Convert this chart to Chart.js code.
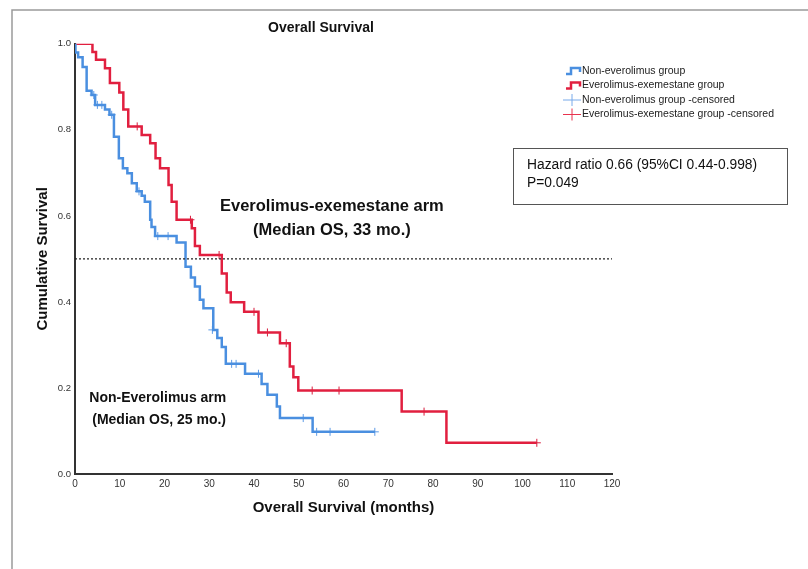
<!DOCTYPE html>
<html>
<head>
<meta charset="utf-8">
<script src="https://cdn.jsdelivr.net/npm/chart.js@4"></script>
<style>
  html, body { margin: 0; padding: 0; background: #fff; }
  canvas { display: block; }
</style>
</head>
<body>
<canvas id="osChart" width="808" height="569"></canvas>
<script>
// Kaplan-Meier steps (months, cumulative survival)
const redTimes = [0, 3.9, 4.7, 6.7, 7.8, 9.9, 10.8, 11.9, 14.9, 16.8, 18.0, 19.0, 20.9, 21.6, 22.7, 26.1, 26.8, 27.9, 32.8, 33.9, 34.8, 37.8, 41.0, 45.8, 48.0, 48.8, 49.9, 73.0, 83.0, 103.2];
const redSurv  = [1.0, 0.981, 0.963, 0.943, 0.909, 0.887, 0.847, 0.808, 0.788, 0.769, 0.734, 0.711, 0.672, 0.633, 0.591, 0.571, 0.530, 0.509, 0.466, 0.422, 0.399, 0.377, 0.329, 0.304, 0.250, 0.225, 0.194, 0.145, 0.0725, 0.0725];

const blueTimes = [0, 0.1, 0.7, 1.7, 2.6, 3.7, 4.5, 6.7, 7.7, 8.7, 9.8, 10.7, 11.7, 12.7, 13.8, 14.9, 15.6, 16.8, 17.1, 17.9, 22.7, 24.7, 25.9, 26.8, 27.9, 28.7, 30.9, 31.8, 32.8, 33.7, 38.0, 41.7, 43.0, 45.1, 45.8, 53.1, 67.0];
const blueSurv  = [1.0, 0.980, 0.969, 0.946, 0.891, 0.881, 0.858, 0.847, 0.835, 0.784, 0.734, 0.711, 0.699, 0.676, 0.657, 0.647, 0.633, 0.591, 0.574, 0.553, 0.538, 0.482, 0.457, 0.436, 0.405, 0.385, 0.335, 0.316, 0.295, 0.256, 0.233, 0.209, 0.184, 0.157, 0.130, 0.098, 0.098];

// censored observations
const redCensTimes = [13.9, 25.8, 32.2, 40.0, 43.0, 47.2, 53.0, 59.0, 78.0, 103.2];
const redCensSurv  = [0.808, 0.591, 0.509, 0.377, 0.329, 0.304, 0.194, 0.194, 0.145, 0.0725];
const blueCensTimes = [4.2, 5.0, 6.0, 8.2, 14.3, 18.5, 20.8, 30.7, 35.0, 36.0, 41.0, 51.0, 54.0, 57.0, 67.0];
const blueCensSurv  = [0.881, 0.858, 0.858, 0.835, 0.657, 0.553, 0.553, 0.335, 0.256, 0.256, 0.233, 0.130, 0.098, 0.098, 0.098];

const xTicks = [0, 10, 20, 30, 40, 50, 60, 70, 80, 90, 100, 110, 120];
const yTicks = [0.0, 0.2, 0.4, 0.6, 0.8, 1.0];

const legendLabels = ['Non-everolimus group', 'Everolimus-exemestane group', 'Non-everolimus group -censored', 'Everolimus-exemestane group -censored'];
const armNotes = [
    { x: 57.4, y: 0.622, size: 16.5, text: 'Everolimus-exemestane arm' },
    { x: 57.4, y: 0.567, size: 16.5, text: '(Median OS, 33 mo.)' },
    { x: 18.5, y: 0.176, size: 14, text: 'Non-Everolimus arm' },
    { x: 18.8, y: 0.126, size: 14, text: '(Median OS, 25 mo.)' }
];
const hrLines = ['Hazard ratio 0.66 (95%CI 0.44-0.998)', 'P=0.049'];

const RED = '#e11f3f';
const BLUE = '#4a8fe0';
const FONT = '"Liberation Sans", Arial, sans-serif';

const toPoints = (xs, ys) => xs.map((x, i) => ({ x: x, y: ys[i] }));

// page frame, arm labels, legend and the HR box
const extrasPlugin = {
    id: 'extras',
    beforeDraw(chart) {
        const ctx = chart.ctx;
        ctx.save();
        ctx.strokeStyle = '#9a9a9a';
        ctx.lineWidth = 1.5;
        ctx.beginPath();
        ctx.moveTo(12, 569);
        ctx.lineTo(12, 10);
        ctx.lineTo(808, 10);
        ctx.stroke();
        ctx.restore();
    },
    afterDraw(chart) {
        const ctx = chart.ctx;
        const xs = chart.scales.x, ys = chart.scales.y;
        ctx.save();

        ctx.fillStyle = '#111';
        ctx.textAlign = 'center';
        ctx.textBaseline = 'middle';
        armNotes.forEach(n => {
            ctx.font = 'bold ' + n.size + 'px ' + FONT;
            ctx.fillText(n.text, xs.getPixelForValue(n.x), ys.getPixelForValue(n.y));
        });

        // legend
        ctx.font = '10.5px ' + FONT;
        ctx.textAlign = 'left';
        const lx = 566, ly = 71, gap = 14.5;
        legendLabels.forEach((label, i) => {
            const y = ly + i * gap;
            ctx.strokeStyle = (i % 2 === 0) ? BLUE : RED;
            ctx.beginPath();
            if (i < 2) {
                ctx.lineWidth = 2.5;
                ctx.moveTo(lx, y + 3);
                ctx.lineTo(lx + 5, y + 3);
                ctx.lineTo(lx + 5, y - 3);
                ctx.lineTo(lx + 14, y - 3);
                ctx.lineTo(lx + 14, y + 1);
            } else {
                ctx.lineWidth = 1;
                ctx.strokeStyle = i === 2 ? '#78aaea' : '#e8334e';
                ctx.moveTo(lx - 3, y);
                ctx.lineTo(lx + 15, y);
                ctx.moveTo(lx + 6, y - 6);
                ctx.lineTo(lx + 6, y + 6);
            }
            ctx.stroke();
            ctx.fillStyle = '#222';
            ctx.fillText(label, lx + 16, y);
        });

        // hazard ratio box
        ctx.strokeStyle = '#555';
        ctx.lineWidth = 1;
        ctx.strokeRect(513.5, 148.5, 274, 56);
        ctx.fillStyle = '#111';
        ctx.font = '13.8px ' + FONT;
        ctx.fillText(hrLines[0], 527, 165);
        ctx.fillText(hrLines[1], 527, 183);
        ctx.restore();
    }
};

new Chart(document.getElementById('osChart'), {
    type: 'line',
    data: {
        datasets: [
            { label: 'median', data: [{ x: 0, y: 0.5 }, { x: 120, y: 0.5 }], borderColor: '#222', borderWidth: 1.2, borderDash: [2, 2], pointRadius: 0 },
            { label: legendLabels[0], data: toPoints(blueTimes, blueSurv), borderColor: BLUE, borderWidth: 2.5, stepped: true, pointRadius: 0 },
            { label: legendLabels[1], data: toPoints(redTimes, redSurv), borderColor: RED, borderWidth: 2.5, stepped: true, pointRadius: 0 },
            { type: 'scatter', label: legendLabels[2], data: toPoints(blueCensTimes, blueCensSurv), pointStyle: 'cross', pointRadius: 4, borderColor: '#5c9ae6', borderWidth: 1, showLine: false },
            { type: 'scatter', label: legendLabels[3], data: toPoints(redCensTimes, redCensSurv), pointStyle: 'cross', pointRadius: 4, borderColor: '#d81b3c', borderWidth: 1, showLine: false }
        ]
    },
    options: {
        responsive: false,
        animation: false,
        layout: { padding: { left: 30, right: 196, top: 10, bottom: 48 } },
        plugins: {
            legend: { display: false },
            tooltip: { enabled: false },
            title: {
                display: true,
                text: 'Overall Survival',
                color: '#111',
                font: { family: FONT, size: 14, weight: 'bold' },
                padding: { top: 10, bottom: 7 }
            }
        },
        scales: {
            x: {
                type: 'linear',
                min: 0, max: 120,
                afterBuildTicks: s => { s.ticks = xTicks.map(v => ({ value: v })); },
                afterFit: s => { s.height = 47; },
                grid: { display: false, drawTicks: false },
                border: { display: true, color: '#333', width: 2 },
                ticks: { color: '#333', font: { family: FONT, size: 10 }, padding: 4, maxRotation: 0 },
                title: {
                    display: true,
                    text: 'Overall Survival (months)',
                    color: '#111',
                    font: { family: FONT, size: 15, weight: 'bold' }
                }
            },
            y: {
                min: 0, max: 1,
                afterBuildTicks: s => { s.ticks = yTicks.map(v => ({ value: v })); },
                afterFit: s => { s.width = 45; },
                grid: { display: false, drawTicks: false },
                border: { display: true, color: '#333', width: 2 },
                ticks: { color: '#333', font: { family: FONT, size: 9.5 }, padding: 4, callback: v => v.toFixed(1) },
                title: {
                    display: true,
                    text: 'Cumulative Survival',
                    color: '#111',
                    font: { family: FONT, size: 15, weight: 'bold' }
                }
            }
        }
    },
    plugins: [extrasPlugin]
});
</script>
</body>
</html>
